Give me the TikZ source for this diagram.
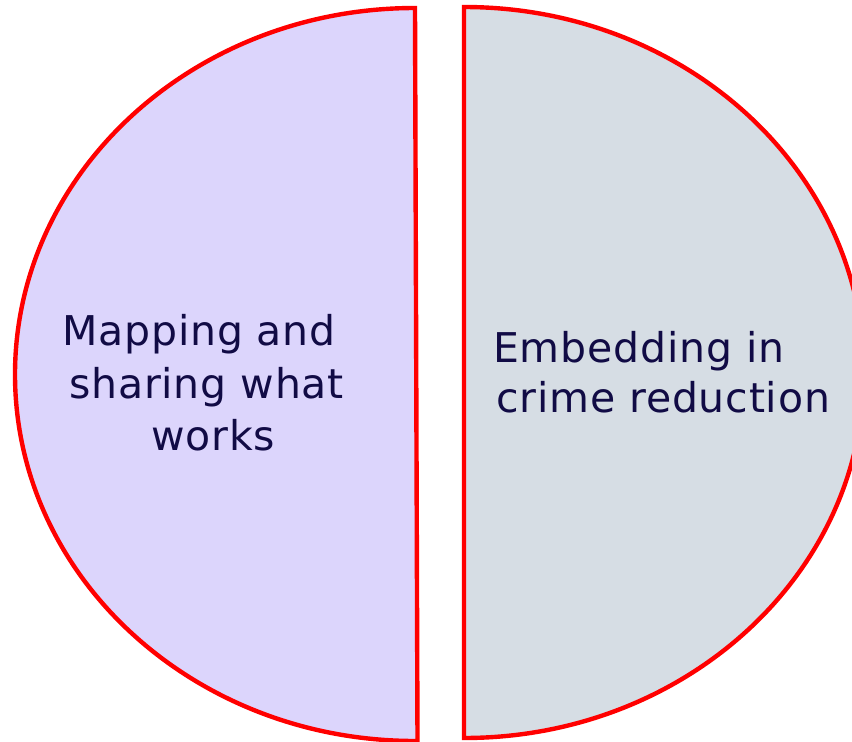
\documentclass[tikz,border=0pt]{standalone}
\usepackage{fontspec}
\setmainfont[LetterSpace=2]{DejaVu Sans}
\definecolor{leftfill}{HTML}{DCD5FC}
\definecolor{rightfill}{HTML}{D6DDE4}
\definecolor{txt}{HTML}{110B45}
\begin{document}
\begin{tikzpicture}[x=1pt,y=-1pt,
  half/.style={draw=red,line width=4.4pt,line join=miter},
  lbl/.style={text=txt,font=\fontsize{41}{52}\selectfont,inner sep=0pt}]
\useasboundingbox (0,0) rectangle (852,742);
\begin{scope}
\clip (0,0) rectangle (852,742);
% left half
\path[half,fill=leftfill] (415,8) arc[start angle=270,end angle=90,x radius=400,y radius=366.5] -- (417.5,741) -- cycle;
% right half
\path[half,fill=rightfill] (464,7) arc[start angle=270,end angle=450,x radius=400,y radius=365.5] -- (464,738) -- cycle;
\end{scope}
\node[lbl,anchor=base west] (l1) at (62,345) {Mapping and};
\node[lbl,anchor=base west] (l2) at (69,398) {sharing what};
\node[lbl,anchor=base west] (l3) at (151,450) {works};
\node[lbl,anchor=base west] (r1) at (493,362) {Embedding in};
\node[lbl,anchor=base west] (r2) at (496,412) {crime reduction};
\end{tikzpicture}
\end{document}
